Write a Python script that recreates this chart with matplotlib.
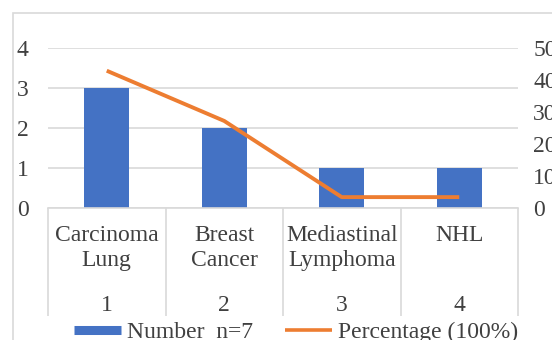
import matplotlib.pyplot as plt
from matplotlib.lines import Line2D
from matplotlib.patches import Rectangle
from matplotlib.transforms import blended_transform_factory, offset_copy

plt.rcParams['font.family'] = ['Liberation Serif', 'DejaVu Serif']

categories = ["Carcinoma\nLung", "Breast\nCancer", "Mediastinal\nLymphoma", "NHL"]
group_ids = ["1", "2", "3", "4"]
numbers = [3, 2, 1, 1]
percentages = [42.9, 27.2, 3.4, 3.4]

blue = "#4472C4"
orange = "#ED7D31"
grid_c = "#D9D9D9"
txt_c = "#404040"
fs = 17

W, H = 552, 340
fig = plt.figure(figsize=(W / 100, H / 100), dpi=100)

# outer chart border (cropped on the right and bottom)
fig.patches.append(Rectangle((13 / W, -0.1), 1.2, (H - 13) / H + 0.1,
                             transform=fig.transFigure, fill=False,
                             edgecolor=grid_c, linewidth=1.2))

ax = fig.add_axes([48 / W, (H - 208) / H, 470 / W, 160 / H])
x = list(range(len(categories)))

ax.bar(x, numbers, width=0.38, color=blue, zorder=2)
ax.set_xlim(-0.5, len(categories) - 0.5)
ax.set_ylim(0, 4)
ax.set_yticks([0, 1, 2, 3, 4])
ax.grid(axis='y', color=grid_c, linewidth=1.2, zorder=0)
for s in ['left', 'right', 'top']:
    ax.spines[s].set_visible(False)
ax.spines['bottom'].set_color(grid_c)
ax.spines['bottom'].set_linewidth(1.2)
ax.tick_params(axis='y', length=0, pad=14, labelsize=fs, labelcolor=txt_c)

ax.set_xticks(x)
ax.set_xticklabels(categories, fontsize=fs, color=txt_c, linespacing=1.2)
ax.tick_params(axis='x', which='major', length=0, pad=12.5)
ax.set_xticks([i - 0.5 for i in range(len(categories) + 1)], minor=True)
ax.tick_params(axis='x', which='minor', length=78, width=1.2, color=grid_c,
               direction='out')

trans = offset_copy(blended_transform_factory(ax.transData, ax.transAxes),
                    fig=fig, x=0, y=-70, units='points')
for i, g in zip(x, group_ids):
    ax.text(i, 0, g, transform=trans, ha='center', va='center',
            fontsize=fs, color=txt_c)

ax2 = ax.twinx()
ax2.plot(x, percentages, color=orange, linewidth=2.8, solid_joinstyle='round',
         solid_capstyle='butt', zorder=3)
ax2.set_ylim(0, 50)
ax2.set_yticks([0, 10, 20, 30, 40, 50])
for s in ['left', 'right', 'top', 'bottom']:
    ax2.spines[s].set_visible(False)
ax2.tick_params(axis='y', length=0, pad=11, labelsize=fs, labelcolor=txt_c)

handles = [Line2D([], [], color=blue, linewidth=6.5, solid_capstyle='butt'),
           Line2D([], [], color=orange, linewidth=2.6, solid_capstyle='butt')]
fig.legend(handles, ["Number  n=7", "Percentage (100%)"], ncol=2,
           loc='center', bbox_to_anchor=(0.536, 0.022), frameon=False,
           fontsize=fs, handlelength=2.0, handletextpad=0.25,
           columnspacing=1.35, labelcolor=txt_c)

fig.savefig("out.png", dpi=100)
